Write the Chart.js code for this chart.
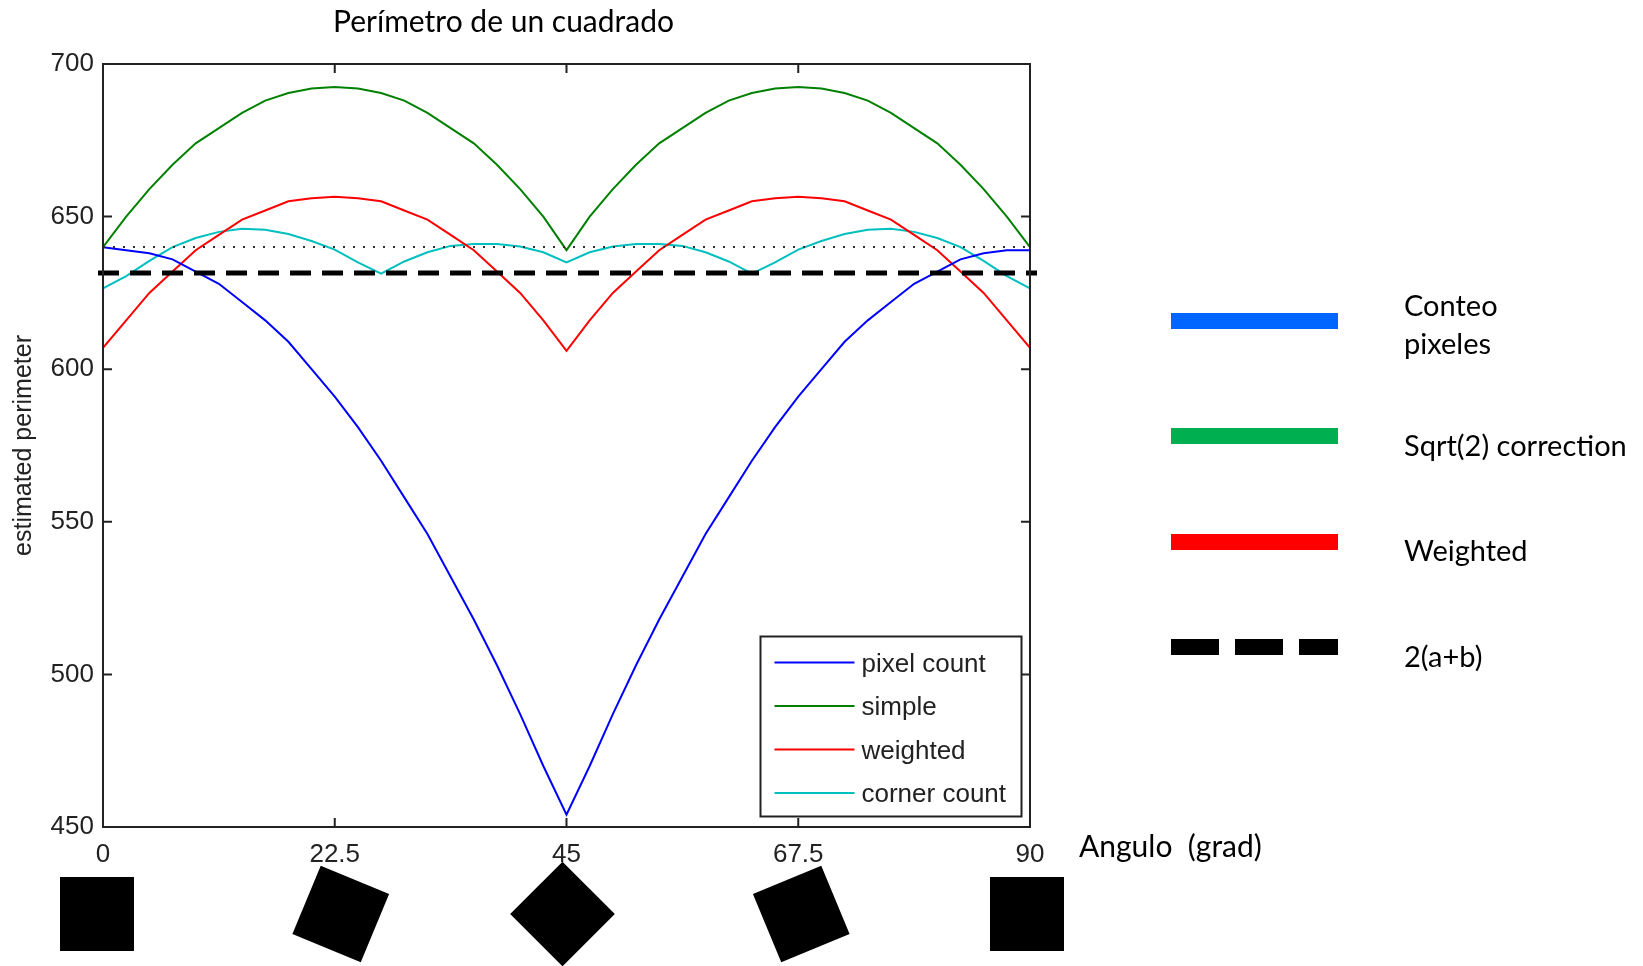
<!DOCTYPE html>
<html>
<head>
<meta charset="utf-8">
<title>Perímetro de un cuadrado</title>
<script src="https://cdn.jsdelivr.net/npm/chart.js@4.4.1/dist/chart.umd.min.js"></script>
<style>
  html, body { margin: 0; padding: 0; background: #fff; }
  #wrap { position: relative; width: 1643px; height: 966px; overflow: hidden; }
  #chart { position: absolute; left: 0; top: 0; }
  .txt { position: absolute; font-family: Lato, "Open Sans", sans-serif; color: #000; white-space: nowrap; line-height: normal; }
  #title { left: 333px; top: 2px; font-size: 30px; }
  #xname { left: 1079px; top: 827px; font-size: 30px; }
  .bar { position: absolute; left: 1171px; width: 167px; height: 16px; }
  .side { font-size: 29px; left: 1404px; }
</style>
</head>
<body>
<div id="wrap">
  <canvas id="chart" width="1643" height="966"></canvas>
  <div id="title" class="txt">Perímetro de un cuadrado</div>
  <div id="xname" class="txt">Angulo&nbsp;&nbsp;(grad)</div>
  <div id="side-legend"></div>
</div>
<script>
// rotation angle of the square (degrees)
const angles = [0, 2.25, 4.5, 6.75, 9, 11.25, 13.5, 15.75, 18, 20.25, 22.5,
  24.75, 27, 29.25, 31.5, 33.75, 36, 38.25, 40.5, 42.75, 45,
  47.25, 49.5, 51.75, 54, 56.25, 58.5, 60.75, 63, 65.25, 67.5,
  69.75, 72, 74.25, 76.5, 78.75, 81, 83.25, 85.5, 87.75, 90];

const pixelCount = [640, 639, 638, 636, 632, 628, 622, 616, 609, 600, 591,
  581, 570, 558, 546, 532, 518, 503, 487, 470, 454,
  470, 487, 503, 518, 532, 546, 558, 570, 581, 591,
  600, 609, 616, 622, 628, 632, 636, 638, 639, 639];

const simple = [640, 650, 659, 667, 674, 679, 684, 688, 690.5, 692, 692.5,
  692, 690.5, 688, 684, 679, 674, 667, 659, 650, 639,
  650, 659, 667, 674, 679, 684, 688, 690.5, 692, 692.5,
  692, 690.5, 688, 684, 679, 674, 667, 659, 650, 640];

const weighted = [607, 616, 625, 632, 639, 644, 649, 652, 655, 656, 656.5,
  656, 655, 652, 649, 644, 639, 632, 625, 616, 606,
  616, 625, 632, 639, 644, 649, 652, 655, 656, 656.5,
  656, 655, 652, 649, 644, 639, 632, 625, 616, 607];

const cornerCount = [626.5, 630.5, 635.5, 640, 643, 645, 646, 645.7, 644.3, 642, 639.2,
  635, 631.3, 635.3, 638.3, 640.4, 641, 641, 640.2, 638.3, 635,
  638.3, 640.2, 641, 641, 640.4, 638.3, 635.3, 631.3, 635, 639.2,
  642, 644.3, 645.7, 646, 645, 643, 640, 635.5, 630.5, 626.5];

const xTicks = [0, 22.5, 45, 67.5, 90];
const yTicks = [450, 500, 550, 600, 650, 700];
const squareAngles = [0, 22.5, 45, 67.5, 90];

const truePerimeter = 640;   // dotted line
const twoAB = 631.5;         // dashed line 2(a+b)

const seriesNames = ['pixel count', 'simple', 'weighted', 'corner count'];
const seriesColors = ['#0000ff', '#008000', '#ff0000', '#00bfbf'];

const sideNames = [['Conteo', 'pixeles'], ['Sqrt(2) correction'], ['Weighted'], ['2(a+b)']];
const sideColors = ['#0066ff', '#00b050', '#ff0000', '#000000'];

// side legend (pasted on the slide next to the figure)
const side = document.getElementById('side-legend');
const barTops = [313, 428, 534, 639];
const textTops = [[287, 325], [427], [532], [638]];
sideNames.forEach((lines, i) => {
    const bar = document.createElement('div');
    bar.className = 'bar';
    bar.style.top = barTops[i] + 'px';
    if (i === 3) {
        bar.style.background = 'repeating-linear-gradient(to right, #000 0 48px, transparent 48px 64px)';
    } else {
        bar.style.background = sideColors[i];
    }
    side.appendChild(bar);
    lines.forEach((t, j) => {
        const d = document.createElement('div');
        d.className = 'txt side';
        d.style.top = textTops[i][j] + 'px';
        d.innerText = t;
        side.appendChild(d);
    });
});

const seriesData = [pixelCount, simple, weighted, cornerCount];

// axes box with inward ticks, matlab style
const axesBox = {
    id: 'axesBox',
    afterDatasetsDraw(chart) {
        const { ctx, chartArea: a, scales } = chart;
        ctx.save();

        // dotted reference
        const yd = scales.y.getPixelForValue(truePerimeter);
        ctx.strokeStyle = '#333';
        ctx.lineWidth = 2;
        ctx.setLineDash([2, 8]);
        ctx.beginPath();
        ctx.moveTo(a.left, yd);
        ctx.lineTo(a.right, yd);
        ctx.stroke();

        // dashed 2(a+b)
        const yk = scales.y.getPixelForValue(twoAB);
        ctx.strokeStyle = '#000';
        ctx.lineWidth = 5;
        ctx.setLineDash([21, 11]);
        ctx.beginPath();
        ctx.moveTo(a.left - 5, yk);
        ctx.lineTo(a.right + 7, yk);
        ctx.stroke();
        ctx.setLineDash([]);

        ctx.strokeStyle = '#222';
        ctx.lineWidth = 2;
        ctx.strokeRect(a.left, a.top, a.right - a.left, a.bottom - a.top);
        const tl = 9;
        ctx.beginPath();
        yTicks.forEach(v => {
            const y = scales.y.getPixelForValue(v);
            ctx.moveTo(a.left, y); ctx.lineTo(a.left + tl, y);
            ctx.moveTo(a.right, y); ctx.lineTo(a.right - tl, y);
        });
        xTicks.forEach(v => {
            const x = scales.x.getPixelForValue(v);
            ctx.moveTo(x, a.bottom); ctx.lineTo(x, a.bottom - tl);
            ctx.moveTo(x, a.top); ctx.lineTo(x, a.top + tl);
        });
        ctx.stroke();

        // legend box inside the axes
        const w = 261, h = 180;
        const bx = a.right - 8.5 - w, by = a.bottom - 10.5 - h;
        ctx.fillStyle = '#fff';
        ctx.fillRect(bx, by, w, h);
        ctx.strokeStyle = '#222';
        ctx.strokeRect(bx, by, w, h);
        ctx.font = '26px "Liberation Sans", Arial, sans-serif';
        ctx.textBaseline = 'middle';
        ctx.fillStyle = '#222';
        seriesNames.forEach((name, i) => {
            const y = by + 26 + i * 43.5;
            ctx.strokeStyle = seriesColors[i];
            ctx.lineWidth = 2;
            ctx.beginPath();
            ctx.moveTo(bx + 14, y);
            ctx.lineTo(bx + 94, y);
            ctx.stroke();
            ctx.fillText(name, bx + 101, y + 2);
        });
        ctx.restore();
    }
};

// rotated squares under the angle axis (placed by hand on the slide, hence the nudges)
const squareNudge = [-6, 6, -4, 3, -3];
const squares = {
    id: 'squares',
    afterDraw(chart) {
        const { ctx, chartArea: a, scales } = chart;
        ctx.save();
        ctx.fillStyle = '#000';
        squareAngles.forEach((ang, i) => {
            const cx = scales.x.getPixelForValue(ang) + squareNudge[i];
            const cy = a.bottom + 87;
            ctx.save();
            ctx.translate(cx, cy);
            ctx.rotate(ang * Math.PI / 180);
            ctx.fillRect(-37, -37, 74, 74);
            ctx.restore();
        });
        ctx.restore();
    }
};

const tickFont = { family: '"Liberation Sans", Arial, sans-serif', size: 26 };

new Chart(document.getElementById('chart'), {
    type: 'line',
    data: {
        datasets: seriesData.map((vals, i) => ({
            label: seriesNames[i],
            data: angles.map((x, k) => ({ x: x, y: vals[k] })),
            borderColor: seriesColors[i],
            borderWidth: 2,
            pointRadius: 0,
            tension: 0,
            fill: false
        }))
    },
    options: {
        responsive: false,
        animation: false,
        layout: { padding: { left: 0, right: 613, top: 64, bottom: 0 } },
        plugins: {
            legend: { display: false },
            tooltip: { enabled: false }
        },
        scales: {
            x: {
                type: 'linear',
                min: 0,
                max: 90,
                afterBuildTicks: s => { s.ticks = xTicks.map(v => ({ value: v })); },
                afterFit: s => { s.height = 139; },
                grid: { display: false, drawTicks: false },
                border: { display: false },
                ticks: { font: tickFont, color: '#222', padding: 12, maxRotation: 0, autoSkip: false }
            },
            y: {
                type: 'linear',
                min: 450,
                max: 700,
                afterBuildTicks: s => { s.ticks = yTicks.map(v => ({ value: v })); },
                afterFit: s => { s.width = 103; },
                grid: { display: false, drawTicks: false },
                border: { display: false },
                ticks: { font: tickFont, color: '#222', padding: 9, autoSkip: false },
                title: {
                    display: true,
                    text: 'estimated perimeter',
                    color: '#222',
                    font: { family: '"Liberation Sans", Arial, sans-serif', size: 25 },
                    padding: { top: 9, bottom: 0 }
                }
            }
        }
    },
    plugins: [axesBox, squares]
});
</script>
</body>
</html>
